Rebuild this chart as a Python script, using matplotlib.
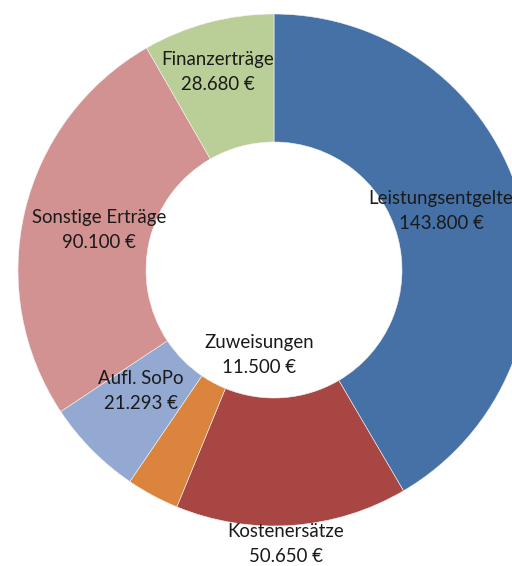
import matplotlib
matplotlib.use("Agg")
import matplotlib.pyplot as plt

# ---- data ----
categories = ["Leistungsentgelte", "Kostenersätze", "Zuweisungen",
              "Aufl. SoPo", "Sonstige Erträge", "Finanzerträge"]
values = [143800, 50650, 11500, 21293, 90100, 28680]
value_labels = ["143.800 €", "50.650 €", "11.500 €", "21.293 €", "90.100 €", "28.680 €"]
show_label = [True, True, True, True, True, True]

# ---- style / layout ----
colors = ["#4571A7", "#A84644", "#DA843E", "#93A9D1", "#D19291", "#BACE97"]
W, H = 512, 566
center_px = (274, 270)          # pie centre in pixels (from top-left)
outer_r = 256
hole_frac = 0.5
# label block centres in pixels (from top-left)
label_pos = [(441, 211), (286, 544), (259, 355), (141, 391), (99, 230), (218, 72)]

plt.rcParams['font.family'] = ['Lato', 'DejaVu Sans']

fig = plt.figure(figsize=(W / 100, H / 100), dpi=100)
ax = fig.add_axes([0, 0, 1, 1])
ax.pie(values, colors=colors, startangle=90, counterclock=False,
       center=(center_px[0], H - center_px[1]), radius=outer_r,
       wedgeprops=dict(width=outer_r * (1 - hole_frac), edgecolor="#f4f4f4", linewidth=0.4))
ax.set_xlim(0, W)
ax.set_ylim(0, H)
ax.set_aspect("equal")
ax.axis("off")

for cat, vl, (px, py), show in zip(categories, value_labels, label_pos, show_label):
    if not show:
        continue
    ax.text(px, H - py, f"{cat}\n{vl}", ha="center", va="center",
            fontsize=13.4, color="#1a1a1a", linespacing=1.55)

fig.savefig("out.png", dpi=100)
